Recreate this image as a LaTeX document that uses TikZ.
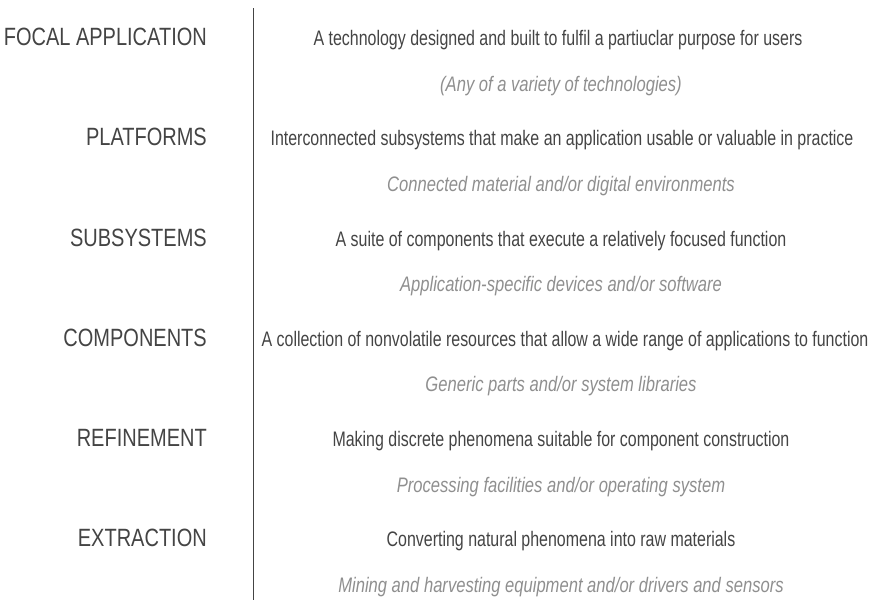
\documentclass[tikz,border=0pt]{standalone}
\usepackage{fontspec}
\usepackage{tikz}
\usepackage{xcolor}
\newfontfamily\layerfont[FakeStretch=0.8]{Liberation Sans}
\newfontfamily\descfont[FakeStretch=0.76]{Liberation Sans}
\newfontfamily\subfont[FakeStretch=0.79]{Liberation Sans}
\definecolor{textgray}{HTML}{444444}
\definecolor{subgray}{HTML}{8F8F8F}

\begin{document}
\begin{tikzpicture}[x=1pt,y=-1pt]
  \useasboundingbox (0,0) rectangle (873,608);
  \tikzstyle{layer}=[anchor=base east,inner sep=0pt,text=textgray,font=\layerfont\fontsize{25}{25}\selectfont]
  \tikzstyle{desc}=[anchor=base,inner sep=0pt,text=textgray,font=\descfont\fontsize{21}{21}\selectfont]
  \tikzstyle{sub}=[anchor=base,inner sep=0pt,text=subgray,font=\subfont\itshape\fontsize{21}{21}\selectfont]
  % divider
  \coordinate (top) at (253,8);
  \coordinate (bottom) at (253,600);
  \draw[textgray,line width=0.9pt] (top) -- (bottom);
  % focal application
  \node[layer] (focal) at (207,45) {FOCAL APPLICATION};
  \node[desc] (focaldesc) at (558,45) {A technology designed and built to fulfil a partiuclar purpose for users};
  \node[sub] (focalsub) at (561,91) {(Any of a variety of technologies)};
  % platforms
  \node[layer] (plat) at (207,145) {PLATFORMS};
  \node[desc] (platdesc) at (562,145) {Interconnected subsystems that make an application usable or valuable in practice};
  \node[sub] (platsub) at (561,191) {Connected material and/or digital environments};
  % subsystems
  \node[layer] (subsys) at (207,246) {SUBSYSTEMS};
  \node[desc] (subsysdesc) at (561,246) {A suite of components that execute a relatively focused function};
  \node[sub] (subsyssub) at (561,291) {Application-specific devices and/or software};
  % components
  \node[layer] (comp) at (207,346) {COMPONENTS};
  \node[desc] (compdesc) at (565,346) {A collection of nonvolatile resources that allow a wide range of applications to function};
  \node[sub] (compsub) at (561,391) {Generic parts and/or system libraries};
  % refinement
  \node[layer] (refine) at (207,446) {REFINEMENT};
  \node[desc] (refinedesc) at (561,446) {Making discrete phenomena suitable for component construction};
  \node[sub] (refinesub) at (561,492) {Processing facilities and/or operating system};
  % extraction
  \node[layer] (extract) at (207,546) {EXTRACTION};
  \node[desc] (extractdesc) at (561,546) {Converting natural phenomena into raw materials};
  \node[sub] (extractsub) at (561,592) {Mining and harvesting equipment and/or drivers and sensors};
\end{tikzpicture}
\end{document}
